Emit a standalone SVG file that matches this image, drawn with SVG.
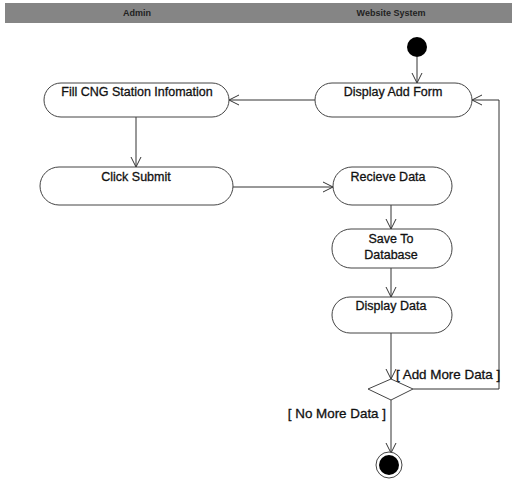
<svg xmlns="http://www.w3.org/2000/svg" width="512" height="483" viewBox="0 0 512 483">
<style>
.pill{fill:#fff;stroke:#444;stroke-width:1}
.t{font-family:"Liberation Sans",Arial,sans-serif;font-size:12.5px;fill:#111;stroke:#111;stroke-width:0.3;text-anchor:middle}
.g{font-family:"Liberation Sans",Arial,sans-serif;font-size:13.4px;fill:#111;stroke:#111;stroke-width:0.3}
.hd{font-family:"Liberation Sans",Arial,sans-serif;font-size:9px;font-weight:bold;fill:#222;text-anchor:middle}
.c{fill:none;stroke:#333;stroke-width:1}
</style>
<defs>
<marker id="open" viewBox="0 0 12 12" refX="11" refY="6" markerWidth="12" markerHeight="12" markerUnits="userSpaceOnUse" orient="auto">
<path d="M1,1 L11,6 L1,11" fill="none" stroke="#333" stroke-width="1"/>
</marker>
</defs>
<rect width="512" height="483" fill="#fff"/>
<g id="header">
<rect x="5" y="3" width="507" height="20" fill="#858585"/>
<text class="hd" x="137" y="16">Admin</text>
<text class="hd" x="391" y="16">Website System</text>
</g>
<g id="connectors">
<line class="c" x1="417" y1="57" x2="417" y2="83" marker-end="url(#open)"/>
<line class="c" x1="315" y1="100" x2="229" y2="100" marker-end="url(#open)"/>
<line class="c" x1="136" y1="117" x2="136" y2="167" marker-end="url(#open)"/>
<line class="c" x1="233" y1="187" x2="333" y2="187" marker-end="url(#open)"/>
<line class="c" x1="391" y1="205" x2="391" y2="229" marker-end="url(#open)"/>
<line class="c" x1="391" y1="268" x2="391" y2="297" marker-end="url(#open)"/>
<line class="c" x1="391" y1="333" x2="391" y2="379" marker-end="url(#open)"/>
<polyline class="c" points="413,389 499,389 499,100 472,100" marker-end="url(#open)"/>
<line class="c" x1="391" y1="400" x2="391" y2="453" marker-end="url(#open)"/>
<text class="g" x="396" y="379">[ Add More Data ]</text>
<text class="g" x="386" y="418" text-anchor="end">[ No More Data ]</text>
</g>
<g id="start"><circle cx="417" cy="47" r="10" fill="#000"/></g>
<g id="displayAddForm">
<rect class="pill" x="315" y="83" width="157" height="34" rx="17"/>
<text class="t" x="393" y="96">Display Add Form</text>
</g>
<g id="fillInfo">
<rect class="pill" x="44" y="83" width="185" height="34" rx="17"/>
<text class="t" x="137" y="96">Fill CNG Station Infomation</text>
</g>
<g id="clickSubmit">
<rect class="pill" x="40" y="167" width="193" height="38" rx="19"/>
<text class="t" x="136" y="181">Click Submit</text>
</g>
<g id="recieveData">
<rect class="pill" x="333" y="167" width="119" height="38" rx="19"/>
<text class="t" x="388" y="181">Recieve Data</text>
</g>
<g id="saveToDatabase">
<rect class="pill" x="332" y="229" width="120" height="39" rx="19"/>
<text class="t" x="391" y="243">Save To</text>
<text class="t" x="391" y="259">Database</text>
</g>
<g id="displayData">
<rect class="pill" x="332" y="297" width="120" height="36" rx="18"/>
<text class="t" x="391" y="310">Display Data</text>
</g>
<g id="decision"><polygon points="391,379 413,389 391,400 368,389" fill="#fff" stroke="#444" stroke-width="1"/></g>
<g id="end">
<circle cx="389" cy="465" r="13" fill="#fff" stroke="#444" stroke-width="1"/>
<circle cx="389" cy="465" r="10" fill="#000"/>
</g>
</svg>
